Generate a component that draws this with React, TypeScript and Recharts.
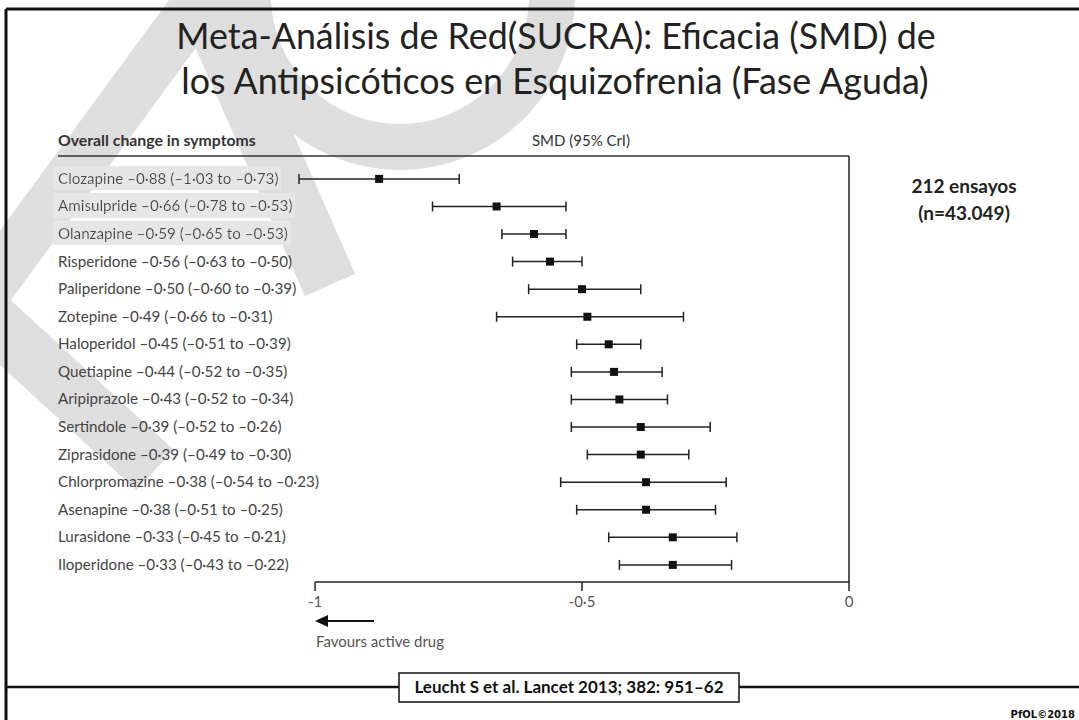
import { ScatterChart, Scatter, XAxis, YAxis, ErrorBar, ReferenceLine } from 'recharts'

const drugs = ['Clozapine', 'Amisulpride', 'Olanzapine', 'Risperidone', 'Paliperidone', 'Zotepine', 'Haloperidol', 'Quetiapine', 'Aripiprazole', 'Sertindole', 'Ziprasidone', 'Chlorpromazine', 'Asenapine', 'Lurasidone', 'Iloperidone']
const smd = [-0.88, -0.66, -0.59, -0.56, -0.5, -0.49, -0.45, -0.44, -0.43, -0.39, -0.39, -0.38, -0.38, -0.33, -0.33]
const crLow = [-1.03, -0.78, -0.65, -0.63, -0.6, -0.66, -0.51, -0.52, -0.52, -0.52, -0.49, -0.54, -0.51, -0.45, -0.43]
const crHigh = [-0.73, -0.53, -0.53, -0.5, -0.39, -0.31, -0.39, -0.35, -0.34, -0.26, -0.3, -0.23, -0.25, -0.21, -0.22]
const highlighted = ['Clozapine', 'Amisulpride', 'Olanzapine']
const xTicks = [-1, -0.5, 0]

const X_DOMAIN = [-1.06, 0]
const Y_DOMAIN = [-0.83, 14.62]
const FONT = 'Lato, "Open Sans", sans-serif'
const WM = '#dedede'

const rows = drugs.map((drug, i) => ({
  row: i,
  drug,
  est: smd[i],
  err: [smd[i] - crLow[i], crHigh[i] - smd[i]],
}))

const fmt = (v: number) => (v < 0 ? '–' : '') + Math.abs(v).toFixed(2).replace('.', '·')
const fmtTick = (v: number) => (v === 0 ? '0' : v === -1 ? '-1' : '-' + String(Math.abs(v)).replace('.', '·'))

function RowLabel(props: any) {
  const { y, payload } = props
  const i = payload?.value
  if (i == null || !drugs[i]) return null
  const label = `${drugs[i]} ${fmt(smd[i])} (${fmt(crLow[i])} to ${fmt(crHigh[i])})`
  return (
    <text
      x={58}
      y={y}
      dy={5}
      fontFamily={FONT}
      fontSize={15.2}
      fill="#444"
      filter={highlighted.includes(drugs[i]) ? 'url(#hl)' : undefined}
    >
      {label}
    </text>
  )
}

const Square = (p: any) => <rect x={p.cx - 4} y={p.cy - 4} width={8} height={8} fill="#111" />

function Backdrop() {
  return (
    <svg width={1079} height={720} style={{ position: 'absolute', left: 0, top: 0 }}>
      <defs>
        <filter id="hl" x="-0.02" y="-0.15" width="1.03" height="1.3">
          <feFlood floodColor="#e6e6e6" result="bg" />
          <feMerge>
            <feMergeNode in="bg" />
            <feMergeNode in="SourceGraphic" />
          </feMerge>
        </filter>
      </defs>

      {/* watermark */}
      <g stroke={WM} fill="none">
        <circle cx={400} cy={-5} r={152} strokeWidth={46} />
        <line x1={200} y1={-10} x2={330} y2={285} strokeWidth={55} />
        <line x1={-20} y1={300} x2={200} y2={0} strokeWidth={50} />
        <line x1={-30} y1={300} x2={155} y2={470} strokeWidth={55} />
      </g>

      {/* frame */}
      <line x1={6} y1={9} x2={1079} y2={9} stroke="#111" strokeWidth={3} />
      <line x1={6} y1={9} x2={6} y2={720} stroke="#111" strokeWidth={3} />
      <line x1={6} y1={687} x2={1079} y2={687} stroke="#111" strokeWidth={2.5} />

      <text x={556} y={49} textAnchor="middle" fontFamily={FONT} fontSize={35.8} fill="#222">
        Meta-Análisis de Red(SUCRA): Eficacia (SMD) de
      </text>
      <text x={555} y={94} textAnchor="middle" fontFamily={FONT} fontSize={35.8} fill="#222">
        los Antipsicóticos en Esquizofrenia (Fase Aguda)
      </text>

      <text x={58} y={146} fontFamily={FONT} fontSize={15.8} fontWeight="bold" fill="#333">
        Overall change in symptoms
      </text>
      <text x={581} y={146} textAnchor="middle" fontFamily={FONT} fontSize={15} fill="#333">
        SMD (95% CrI)
      </text>
      <line x1={58} y1={156} x2={849} y2={156} stroke="#333" strokeWidth={1.5} />

      <text x={964} y={193} textAnchor="middle" fontFamily={FONT} fontSize={19} fontWeight="bold" fill="#222">
        212 ensayos
      </text>
      <text x={964} y={220} textAnchor="middle" fontFamily={FONT} fontSize={19} fontWeight="bold" fill="#222">
        (n=43.049)
      </text>

      <line x1={326} y1={621} x2={374} y2={621} stroke="#111" strokeWidth={2} />
      <polygon points="315,621 328,615 328,627" fill="#111" />
      <text x={316} y={647} fontFamily={FONT} fontSize={15} fill="#555">
        Favours active drug
      </text>

      <rect x={399} y={673} width={340} height={29} fill="#fff" stroke="#111" strokeWidth={1.5} />
      <text x={569} y={693} textAnchor="middle" fontFamily={FONT} fontSize={17} fontWeight="bold" fill="#111">
        Leucht S et al. Lancet 2013; 382: 951–62
      </text>

      <text x={1075} y={718} textAnchor="end" fontFamily='"DejaVu Sans", Verdana, sans-serif' fontSize={10} fontWeight="bold" fill="#111">
        PfOL©2018
      </text>
    </svg>
  )
}

export default function App() {
  return (
    <div style={{ position: 'absolute', left: 0, top: 0, width: 1079, height: 720, background: '#fff', overflow: 'hidden' }}>
      <Backdrop />
      <div style={{ position: 'absolute', left: 0, top: 0 }}>
        <ScatterChart width={1079} height={720} margin={{ top: 156, right: 230, bottom: 108, left: 58 }}>
          <XAxis
            type="number"
            dataKey="est"
            domain={X_DOMAIN}
            ticks={xTicks}
            tickFormatter={fmtTick}
            height={30}
            axisLine={false}
            tickSize={9}
            tickMargin={5}
            tickLine={{ stroke: '#222', strokeWidth: 1.5 }}
            tick={{ fill: '#555', fontSize: 15, fontFamily: FONT }}
          />
          <YAxis
            type="number"
            dataKey="row"
            domain={Y_DOMAIN}
            reversed
            ticks={rows.map(r => r.row)}
            interval={0}
            width={225}
            axisLine={false}
            tickLine={false}
            tick={<RowLabel />}
          />
          <ReferenceLine x={0} stroke="#222" strokeWidth={1.5} />
          <ReferenceLine
            segment={[{ x: -1, y: Y_DOMAIN[1] }, { x: 0, y: Y_DOMAIN[1] }]}
            stroke="#222"
            strokeWidth={1.5}
          />
          <Scatter data={rows} isAnimationActive={false} shape={Square}>
            <ErrorBar dataKey="err" direction="x" width={5} stroke="#222" strokeWidth={1.5} />
          </Scatter>
        </ScatterChart>
      </div>
    </div>
  )
}
